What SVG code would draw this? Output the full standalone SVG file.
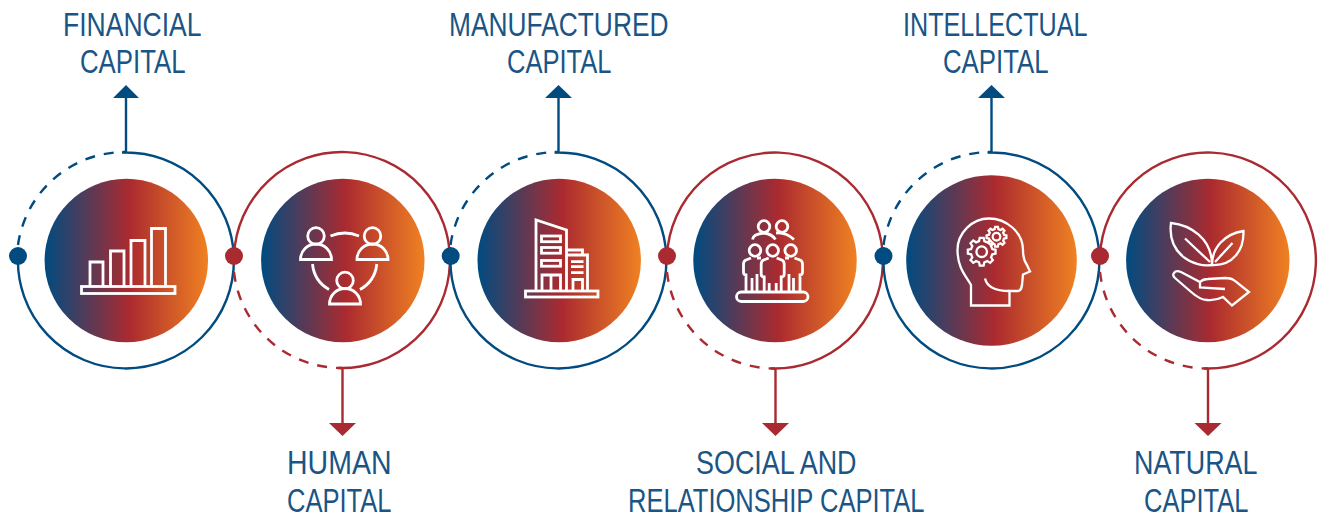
<svg xmlns="http://www.w3.org/2000/svg" width="1322" height="522" viewBox="0 0 1322 522">
<style>
.lbl{font-family:"Liberation Sans Narrow","Liberation Sans",Arial,sans-serif;font-size:34px;fill:#1a5585}
.b{fill:none;stroke:#004b80;stroke-width:2.400}
.r{fill:none;stroke:#a92a30;stroke-width:2.400}
.dash{stroke-dasharray:10 9}
.ic{fill:none;stroke:#fff;stroke-width:2.800;stroke-linejoin:miter}
.thin{stroke-width:2.300}
</style>
<defs>
<linearGradient id="g"><stop offset="0" stop-color="#004b80"/><stop offset=".52" stop-color="#ab2a2f"/><stop offset="1" stop-color="#f08122"/></linearGradient>
<path id="gear" d="M7.57-1.89 9.9-1.39 9.9 1.39 7.57 1.89 6.69 4.02 7.98 6.02 6.02 7.98 4.02 6.69 1.89 7.57 1.39 9.9-1.39 9.9-1.89 7.57-4.02 6.69-6.02 7.98-7.98 6.02-6.69 4.02-7.57 1.89-9.9 1.39-9.9-1.39-7.57-1.89-6.69-4.02-7.98-6.02-6.02-7.98-4.02-6.69-1.89-7.57-1.39-9.9 1.39-9.9 1.89-7.57 4.02-6.69 6.02-7.98 7.98-6.02 6.69-4.02Z" vector-effect="non-scaling-stroke"/>
<path id="man" d="M-4-1 L-9 1Q-11.500 2-11.500 5V15Q-11.500 18-8.500 18V33M8.500 33V18Q11.500 18 11.500 15V5Q11.500 2 9 1L4-1M-3.500 24V33M3.500 24V33"/>
</defs>

<g id="connectors">
<path class="b dash" d="M18 245A108 108 0 0 1 126 152"/>
<path class="b" d="M122 152.500A108 108 0 1 1 18 256M126 152V97"/>
<path class="r dash" d="M234 272A108 108 0 0 0 342 368"/>
<path class="r" d="M338 368A108 108 0 1 0 234 256M342.500 368V424"/>
<path class="b dash" d="M450.500 245A108 108 0 0 1 558.500 152"/>
<path class="b" d="M554.500 152.500A108 108 0 1 1 450.500 256M558.500 152V97"/>
<path class="r dash" d="M667 272A108 108 0 0 0 775 368.500"/>
<path class="r" d="M771 368.500A108 108 0 1 0 667 256M775.500 368V424"/>
<path class="b dash" d="M883.500 245A108 108 0 0 1 991.500 152"/>
<path class="b" d="M987.500 152.500A108 108 0 1 1 883.500 256M991.500 152V97"/>
<path class="r dash" d="M1100 272A108 108 0 0 0 1208 368.500"/>
<path class="r" d="M1204 368.500A108 108 0 1 0 1100 256M1208 368V424"/>
<path fill="#004b80" d="M126 85 139 98H113ZM558.500 85 572 98H545ZM991.500 85 1005 98H978Z"/>
<path fill="#a92a30" d="M342.500 436 356 423H329ZM775.500 436 789 423H762ZM1208 436 1221.500 423H1194.500Z"/>
<circle cx="18" cy="256" r="9" fill="#004b80"/>
<circle cx="234" cy="256" r="9" fill="#a92a30"/>
<circle cx="450.700" cy="256" r="9" fill="#004b80"/>
<circle cx="667" cy="256" r="9" fill="#a92a30"/>
<circle cx="883.500" cy="256" r="9" fill="#004b80"/>
<circle cx="1100" cy="256" r="9" fill="#a92a30"/>
</g>

<g id="financial">
<circle cx="126.300" cy="260.500" r="81.700" fill="url(#g)"/>
<path class="ic" d="M90 286V262H103V286M110.500 286V251H124V286M131 286V240.500H145V286M151.500 286V228.500H165.500V286"/>
<rect class="ic" x="81.500" y="286.500" width="93.500" height="7"/>
<text class="lbl" x="63" y="35.500" textLength="138.500" lengthAdjust="spacingAndGlyphs">FINANCIAL</text>
<text class="lbl" x="80" y="73" textLength="105.500" lengthAdjust="spacingAndGlyphs">CAPITAL</text>
</g>

<g id="human">
<circle cx="342.800" cy="260.500" r="81.700" fill="url(#g)"/>
<g class="ic">
<circle cx="316" cy="236" r="8.300"/><path d="M300.500 259.500A15.500 15.500 0 0 1 331.500 259.500Z"/>
<circle cx="372.500" cy="236" r="8.300"/><path d="M357 259.500A15.500 15.500 0 0 1 388 259.500Z"/>
<circle cx="345" cy="280.500" r="8.300"/><path d="M329.500 304A15.500 15.500 0 0 1 360.500 304Z"/>
<path d="M330.500 236Q345 230 359 236M312.500 264A33 33 0 0 0 329 289.500M376.800 264A33 33 0 0 1 360 289.500"/>
</g>
<text class="lbl" x="287" y="474" textLength="104.500" lengthAdjust="spacingAndGlyphs">HUMAN</text>
<text class="lbl" x="287" y="512" textLength="104.500" lengthAdjust="spacingAndGlyphs">CAPITAL</text>
</g>

<g id="manufactured">
<circle cx="559.200" cy="260.500" r="81.700" fill="url(#g)"/>
<g class="ic">
<path d="M536 290V220L566.500 230V290M567 250H582.500V255M567 255H587.500V290"/>
<rect x="525.500" y="291" width="72.500" height="6"/>
<rect x="541.500" y="236" width="19" height="5.700"/><rect x="541.500" y="247.500" width="19" height="5.700"/><rect x="541.500" y="260.500" width="19" height="5.700"/>
<path d="M542 290V275H560.500V290M551 275V290M571 261.700H583.500M571 266.700H583.500M571 272.700H583.500M573 290V279.500H582.500V290"/>
</g>
<text class="lbl" x="449" y="35.500" textLength="219.500" lengthAdjust="spacingAndGlyphs">MANUFACTURED</text>
<text class="lbl" x="507" y="73" textLength="104.500" lengthAdjust="spacingAndGlyphs">CAPITAL</text>
</g>

<g id="social">
<circle cx="775" cy="260.500" r="81.700" fill="url(#g)"/>
<g class="ic">
<circle cx="764" cy="226.500" r="5.800"/><circle cx="782" cy="226.500" r="5.800"/>
<path d="M752.500 239.500Q753 234 764 233Q772 234 775.500 239.500M776 233Q786 232 794 239.500"/>
<circle cx="755" cy="250.500" r="5.800"/><circle cx="772.700" cy="250.500" r="5.800"/><circle cx="790.700" cy="250.500" r="5.800"/>
<use href="#man" x="772.700" y="259"/>
<path d="M751 258 746 260Q743.500 261 743.500 264V272Q743.500 275 746 275V291M757 274V291M761 258H757M794.500 258 800 260Q802.500 261 802.500 264V272Q802.500 275 800 275V291M789 274V291M785 258H789M752 278V291M793.500 278V291"/>
<rect x="736.500" y="292" width="71.500" height="9.500" rx="4.700"/>
</g>
<text class="lbl" x="696" y="474" textLength="160.500" lengthAdjust="spacingAndGlyphs">SOCIAL AND</text>
<text class="lbl" x="628" y="512" textLength="296.500" lengthAdjust="spacingAndGlyphs">RELATIONSHIP CAPITAL</text>
</g>

<g id="intellectual">
<circle cx="991.500" cy="260.500" r="85.300" fill="url(#g)"/>
<g class="ic">
<path class="thin" d="M971 305.500V285C966 276 957.500 268 957.500 250C957.500 233 972 218.500 989 218.500C1006 218.500 1023 232 1023 250C1023 258 1024 261 1027 265L1030 271.500L1023 274.500C1022 282 1023 291 1018 291H1009.500V305.500Z"/>
<path class="thin" d="M985 278.500C987 287 996 291 1009.500 291"/>
<use href="#gear" class="thin" transform="translate(981.700 251.700) scale(1.400)"/>
<circle class="thin" cx="981.700" cy="251.700" r="5.300"/>
<use href="#gear" class="thin" transform="translate(996.500 236.700) scale(1)"/>
<circle class="thin" cx="996.500" cy="236.700" r="3.800"/>
</g>
<text class="lbl" x="903" y="35.500" textLength="184.500" lengthAdjust="spacingAndGlyphs">INTELLECTUAL</text>
<text class="lbl" x="943" y="73" textLength="105.500" lengthAdjust="spacingAndGlyphs">CAPITAL</text>
</g>

<g id="natural">
<circle cx="1207.800" cy="260.500" r="81.700" fill="url(#g)"/>
<g class="ic thin">
<path d="M1171 223C1190 225 1212 238 1212 265C1195 268 1167 255 1171 223Z"/>
<path d="M1243.500 231C1244 250 1233 266 1212 265C1212 248 1224 234 1243.500 231Z"/>
<path d="M1185 238.500L1210 262M1232.500 243L1215 262"/>
<path d="M1174 273Q1176 270 1181 272L1200 282Q1203 279 1208 279L1225 278Q1232 278 1235 281L1249 292L1232 305.500L1223 297Q1215 301 1207 300Q1200 300 1190 291L1175 278Q1172 275 1174 273Z"/>
<path d="M1200 282V287.500L1225 289"/>
</g>
<text class="lbl" x="1134" y="474" textLength="123.500" lengthAdjust="spacingAndGlyphs">NATURAL</text>
<text class="lbl" x="1144" y="512" textLength="104.500" lengthAdjust="spacingAndGlyphs">CAPITAL</text>
</g>
</svg>
